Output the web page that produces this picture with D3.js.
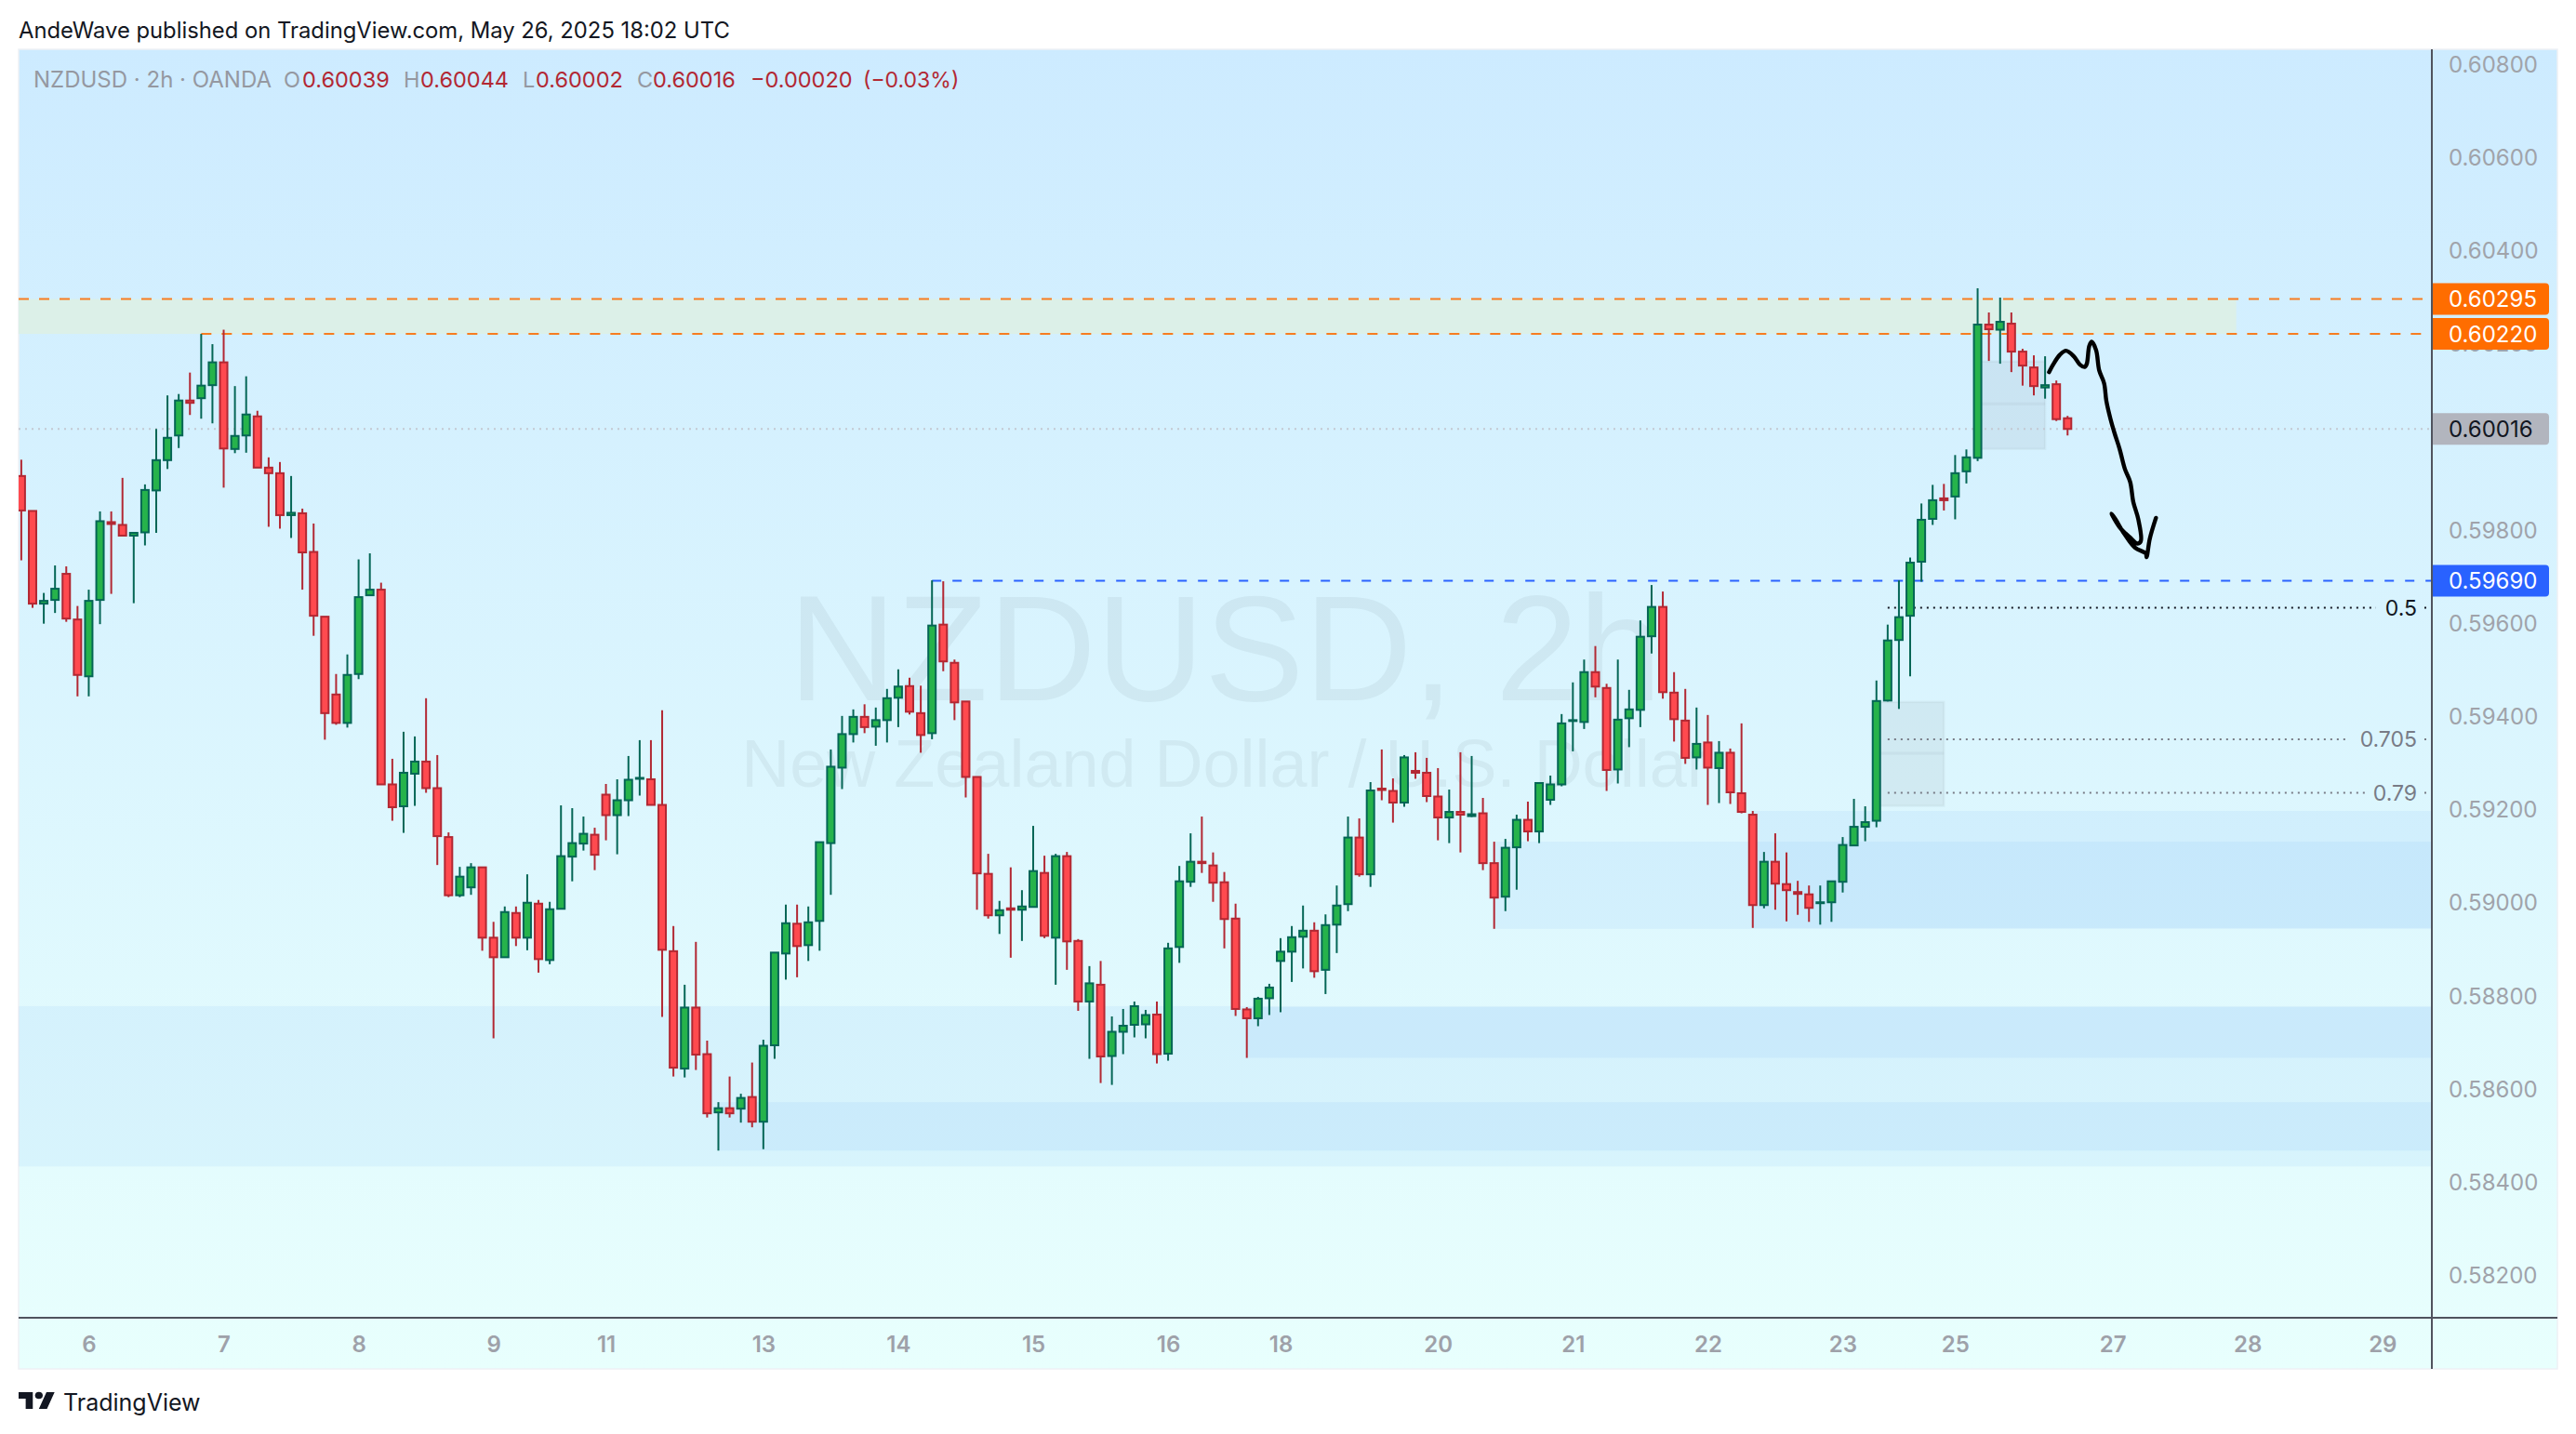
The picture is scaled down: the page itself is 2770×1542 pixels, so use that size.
<!DOCTYPE html>
<html><head><meta charset="utf-8">
<script src="https://cdn.jsdelivr.net/npm/d3@7/dist/d3.min.js"></script>
<style>
html,body{margin:0;padding:0;background:#fff}
svg{display:block}
text{font-family:Inter,"Liberation Sans",sans-serif}
</style></head><body>
<script>
// OHLC values in points of 0.00001
const opens=[59915,59840,59641,59649,59705,59607,59485,59649,59816,59810,
59787,59794,59884,59949,60002,60077,60082,60110,60159,59973,
60002,60043,59933,59921,59831,59835,59752,59613,59446,59385,
59490,59659,59671,59253,59206,59276,59302,59245,59140,59015,
59032,59075,58924,58882,58977,58924,58997,58876,58986,59098,
59126,59145,59231,59187,59219,59265,59264,59209,58895,58643,
58774,58674,58549,58558,58557,58582,58529,58693,58890,58954,
58908,58960,59127,59289,59361,59398,59377,59391,59439,59464,
59406,59363,59596,59514,59431,59269,59061,58972,58987,58984,
58990,59063,58924,59099,58917,58787,58823,58670,58722,58737,
58738,58759,58675,58904,59044,59087,59079,59043,58965,58770,
58751,58794,58874,58894,58926,58939,58855,58952,58996,59139,
59060,59244,59239,59214,59282,59278,59227,59182,59194,59185,
59191,59084,59012,59118,59177,59152,59220,59253,59389,59387,
59494,59460,59285,59395,59413,59571,59634,59450,59390,59311,
59343,59288,59321,59234,59188,58994,59087,59039,59022,59017,
58998,59000,59044,59122,59162,59175,59433,59563,59615,59731,
59823,59867,59871,59925,59954,60240,60229,60242,60182,60148,
60105,60112,60039];
const highs=[59950,59840,59664,59723,59721,59636,59671,59839,59839,59911,
59793,59897,60016,60088,60091,60137,60220,60198,60229,60108,
60129,60055,59955,59945,59915,59845,59813,59613,59490,59532,
59736,59749,59686,59308,59366,59356,59438,59316,59150,59076,
59084,59075,58958,58991,58991,59060,59005,59001,59208,59202,
59184,59160,59254,59264,59314,59348,59348,59412,58949,58823,
58915,58703,58571,58626,58589,58656,58705,58892,58995,58995,
58991,59129,59328,59400,59414,59425,59418,59458,59500,59482,
59465,59691,59689,59521,59431,59269,59104,59003,59075,59026,
59164,59100,59104,59108,58921,58863,58874,58755,58771,58787,
58769,58787,58913,59078,59148,59184,59107,59065,58997,58775,
58797,58825,58923,58949,58993,58957,58974,59036,59184,59180,
59258,59328,59266,59316,59322,59310,59288,59242,59322,59314,
59224,59130,59136,59188,59216,59257,59272,59404,59472,59521,
59550,59469,59521,59456,59605,59681,59667,59494,59458,59418,
59402,59346,59330,59384,59196,59108,59148,59107,59046,59036,
59036,59045,59140,59222,59206,59476,59596,59691,59740,59856,
59896,59898,59960,59972,60318,60266,60298,60266,60188,60174,
60172,60120,60044];
const lows=[59734,59632,59598,59621,59602,59442,59442,59597,59662,59787,
59642,59766,59793,59930,59975,60046,60038,60028,59890,59964,
59965,59933,59806,59802,59782,59671,59572,59349,59381,59375,
59479,59659,59253,59175,59149,59207,59235,59080,59011,59011,
59016,58896,58708,58882,58906,58897,58849,58867,58986,59045,
59111,59069,59133,59103,59185,59229,59209,58754,58626,58624,
58640,58538,58467,58538,58527,58517,58470,58664,58834,58839,
58874,58896,59016,59243,59343,59363,59336,59343,59376,59403,
59321,59350,59496,59391,59225,58984,58965,58932,58881,58917,
58990,58923,58823,58855,58767,58664,58612,58608,58674,58710,
58708,58654,58660,58870,59033,59063,59001,58901,58756,58666,
58734,58758,58764,58829,58858,58838,58803,58891,58981,59055,
59033,59219,59171,59205,59265,59215,59133,59127,59107,59183,
59069,58943,58981,59027,59131,59127,59209,59249,59324,59372,
59440,59239,59255,59333,59376,59534,59437,59345,59297,59285,
59209,59213,59211,59191,58945,58987,58984,58959,58973,58958,
58952,58958,59021,59122,59131,59161,59431,59415,59485,59688,
59810,59841,59822,59899,59947,60162,60156,60138,60109,60088,
60081,60033,60002];
const closes=[59841,59641,59647,59673,59609,59488,59647,59818,59812,59787,
59793,59885,59949,59997,60077,60072,60109,60159,59974,60001,
60047,59933,59921,59831,59836,59751,59615,59406,59385,59488,
59655,59671,59253,59204,59278,59302,59245,59142,59015,59055,
59075,58924,58882,58979,58924,58999,58878,58985,59099,59127,
59147,59102,59187,59219,59263,59267,59209,58898,58645,58774,
58673,58547,58558,58547,58580,58529,58692,58892,58955,58906,
58957,59129,59291,59361,59398,59376,59391,59438,59463,59409,
59359,59594,59517,59429,59269,59062,58972,58983,58984,58991,
59067,58928,59099,58916,58787,58826,58669,58722,58735,58777,
58758,58674,58901,59045,59087,59084,59042,58964,58771,58751,
58793,58817,58894,58925,58939,58852,58951,58993,59139,59060,
59240,59241,59214,59311,59278,59228,59182,59194,59188,59189,
59084,59010,59117,59177,59152,59256,59253,59384,59391,59494,
59463,59284,59392,59414,59570,59634,59451,59393,59310,59340,
59289,59321,59236,59194,58994,59087,59040,59026,59018,58988,
59000,59045,59123,59162,59172,59432,59562,59612,59729,59821,
59863,59863,59921,59955,60240,60230,60246,60182,60152,60108,
60110,60037,60016];

// axis ticks
const dayBars=[6,18,30,42,52,66,78,90,102,112,126,138,150,162,172,186,198,210];
const dayLabels=["6","7","8","9","11","13","14","15","16","18","20","21","22","23","25","27","28","29"];
const priceTicks=[58200,58400,58600,58800,59000,59200,59400,59600,59800,60000,60200,60400,60600,60800];

// blue demand zones (start bar, top, bottom)
const zoneStarts=[-1,62,109,131,154];
const zoneTops=[58777,58571,58775,59130,59196];
const zoneBottoms=[58433,58467,58666,58943,58945];

// grey imbalance boxes (start bar, end bar, top, mid, bottom)
const boxStarts=[165,174];
const boxEnds=[171,180];
const boxTops=[59430,60161];
const boxMids=[59320,60070];
const boxBottoms=[59207,59973];

// fib levels
const fibLabels=["0.5","0.705","0.79"];
const fibPrices=[59632,59350,59235];
const fibStart=166;

// key levels
const supplyTop=60295, supplyBottom=60220, supplyEndBar=197, supplyLowStart=16;
const swingHigh=59690, swingStart=81, lastPrice=60016;

// hand-drawn arrow (bar, price)
const arrowBars=[180.35,180.76,181.31,181.86,182.55,183.1,183.52,183.71,183.93,184.15,184.54,184.81,185.25,185.45,185.8,186.19,186.63,187.1,187.57,187.84,188.29,188.51,188.2,187.51,186.69,185.91,186.27,186.96,188.01,188.95,189.03,189.31,189.86];
const arrowPrices=[60138,60156,60175,60184,60172,60154,60149,60156,60194,60203,60185,60142,60114,60076,60039,60006,59973,59930,59902,59860,59822,59775,59770,59784,59803,59834,59822,59794,59761,59749,59741,59780,59825];

const P=v=>v/1e5;
const W=2770,H=1542,L=20,AX=2615,R=2750,T=53,TA=1417,B=1472;
const x=d3.scaleLinear().domain([-0.24,214.4]).range([L,AX]);
const y=d3.scaleLinear().domain([0.608,0.582]).range([68.5,1371]);
const candles=opens.map((o,i)=>({i,o:P(o),h:P(highs[i]),l:P(lows[i]),c:P(closes[i])}));

const svg=d3.select("body").append("svg").attr("width",W).attr("height",H);
const defs=svg.append("defs");
const g=defs.append("linearGradient").attr("id","bg").attr("x1",0).attr("x2",0).attr("y1",0).attr("y2",1);
g.append("stop").attr("offset",0).attr("stop-color","#cdebff");
g.append("stop").attr("offset",1).attr("stop-color","#e8fffd");
defs.append("clipPath").attr("id","plot").append("rect").attr("x",L).attr("y",T).attr("width",AX-L).attr("height",TA-T);

svg.append("rect").attr("x",L).attr("y",T).attr("width",R-L).attr("height",B-T).attr("fill","url(#bg)").attr("stroke","#eef1f5").attr("stroke-width",1.5);

const plot=svg.append("g").attr("clip-path","url(#plot)");

plot.selectAll(".zone").data(zoneStarts).join("rect").attr("class","zone")
 .attr("x",d=>x(d)).attr("width",d=>AX-x(d))
 .attr("y",(d,i)=>y(P(zoneTops[i]))).attr("height",(d,i)=>y(P(zoneBottoms[i]))-y(P(zoneTops[i])))
 .attr("fill","rgba(55,135,240,0.07)");

// supply band
plot.append("rect").attr("x",L).attr("width",x(supplyEndBar)-L)
 .attr("y",y(P(supplyTop))).attr("height",y(P(supplyBottom))-y(P(supplyTop)))
 .attr("fill","#dcf0e8");

// watermark
const cx=(L+AX)/2;
plot.append("text").attr("x",cx).attr("y",753).attr("text-anchor","middle")
 .style("font-family","'Liberation Sans',Arial,sans-serif").style("font-size","161px").attr("fill","rgba(42,46,57,0.06)").text("NZDUSD, 2h");
plot.append("text").attr("x",cx).attr("y",846).attr("text-anchor","middle")
 .style("font-family","'Liberation Sans',Arial,sans-serif").style("font-size","72px").attr("fill","rgba(42,46,57,0.06)").text("New Zealand Dollar / U.S. Dollar");

// grey boxes
boxStarts.forEach((s,i)=>{
 const bx=x(s),bw=x(boxEnds[i])-bx,t=y(P(boxTops[i])),b=y(P(boxBottoms[i])),m=y(P(boxMids[i]));
 plot.append("rect").attr("x",bx).attr("y",t).attr("width",bw).attr("height",b-t)
  .attr("fill","rgba(120,123,134,0.1)").attr("stroke","rgba(120,123,134,0.07)").attr("stroke-width",2.5);
 plot.append("line").attr("x1",bx).attr("x2",bx+bw).attr("y1",m).attr("y2",m)
  .attr("stroke","rgba(120,123,134,0.08)").attr("stroke-width",3);
});

// level lines
function level(x1,x2,p,color,dash,w=2){
 plot.append("line").attr("x1",x1).attr("x2",x2).attr("y1",y(P(p))).attr("y2",y(P(p)))
  .attr("stroke",color).attr("stroke-width",w).attr("stroke-dasharray",dash);
}
level(L,AX,lastPrice,"#c4c9d2","2 5");
level(L,AX,supplyTop,"#f77c20","11 11");
level(x(supplyLowStart),AX,supplyBottom,"#f77c20","11 11");
level(x(swingStart),AX,swingHigh,"#2962ff","10 12");

// fib levels
const fibGaps=[[2555,2607],[2524.6,2607],[2543,2607]];
fibPrices.forEach((p,i)=>{
 const col=i===0?"#131722":"#787b86";
 level(x(fibStart),fibGaps[i][0],p,col,"2 5");
 level(fibGaps[i][1],AX,p,col,"2 5");
 plot.append("text").attr("x",2599).attr("y",y(P(p))).attr("dy","0.36em").attr("text-anchor","end")
  .style("font-size","23px").attr("fill",col).text(fibLabels[i]);
});

// candles
const upLine="#056656",upFill="#26b34b",dnLine="#b22833",dnFill="#ff4a4f";
const cg=plot.append("g").selectAll("g").data(candles).join("g");
cg.append("line").attr("x1",d=>x(d.i)).attr("x2",d=>x(d.i)).attr("y1",d=>y(d.h)).attr("y2",d=>y(d.l))
 .attr("stroke",d=>d.c>=d.o?upLine:dnLine).attr("stroke-width",2);
cg.append("rect").attr("x",d=>x(d.i)-4).attr("width",8)
 .attr("y",d=>y(Math.max(d.o,d.c))).attr("height",d=>Math.abs(y(d.o)-y(d.c)))
 .attr("fill",d=>d.c>=d.o?upFill:dnFill).attr("stroke",d=>d.c>=d.o?upLine:dnLine).attr("stroke-width",2);

// hand-drawn arrow
const arrow=d3.line().x(d=>x(d[0])).y(d=>y(P(d[1]))).curve(d3.curveCatmullRom);
plot.append("path").attr("d",arrow(arrowBars.map((b,i)=>[b,arrowPrices[i]])))
 .attr("fill","none").attr("stroke","#000").attr("stroke-width",4.4).attr("stroke-linecap","round").attr("stroke-linejoin","round");

// axes
const xAxis=d3.axisBottom(x).tickValues(dayBars).tickFormat((d,i)=>dayLabels[i]).tickSize(0).tickPadding(0);
const xg=svg.append("g").attr("transform",`translate(0,${TA})`).call(xAxis);
xg.select(".domain").remove();
xg.selectAll("text").attr("y",28).attr("dy","0.36em").style("font-size","24px").style("font-weight",600).attr("fill","#9ea1a9");

const yAxis=d3.axisRight(y).tickValues(priceTicks.map(P)).tickFormat(d3.format(".5f")).tickSize(0).tickPadding(0);
const yg=svg.append("g").attr("transform",`translate(${AX},0)`).call(yAxis);
yg.select(".domain").remove();
yg.selectAll("text").attr("x",18).attr("dy","0.36em").style("font-size","24px").attr("fill","#a0a3aa");

svg.append("line").attr("x1",L).attr("x2",R).attr("y1",TA).attr("y2",TA).attr("stroke","#50535e").attr("stroke-width",2);
svg.append("line").attr("x1",AX).attr("x2",AX).attr("y1",T).attr("y2",B).attr("stroke","#50535e").attr("stroke-width",2);

// price tags
const tagPrices=[supplyTop,supplyBottom,lastPrice,swingHigh];
const tagFills=["#ff6d00","#ff6d00","#b2b5be","#2962ff"];
const tagText=["#fff","#fff","#131722","#fff"];
tagPrices.forEach((p,i)=>{
 const c=y(P(p));
 svg.append("path").attr("d",`M${AX+1},${c-17}H2737a4,4 0 0 1 4,4V${c+13}a4,4 0 0 1 -4,4H${AX+1}Z`).attr("fill",tagFills[i]);
 svg.append("text").attr("x",AX+18).attr("y",c).attr("dy","0.36em").style("font-size","24px").attr("fill",tagText[i]).text(d3.format(".5f")(P(p)));
});

// header legend
svg.append("text").attr("x",20).attr("y",32).attr("dy","0.36em").style("font-size","23.8px").attr("fill","#131722")
 .text("AndeWave published on TradingView.com, May 26, 2025 18:02 UTC");
const gray="#9598a1",red="#b22833";
const legendText=["NZDUSD · 2h · OANDA","O","0.60039","H","0.60044","L","0.60002","C","0.60016","−0.00020","(−0.03%)"];
const legendX=[36,305,325,434,452,562,576,685,702,807,928];
const legendCol=[gray,gray,red,gray,red,gray,red,gray,red,red,red];
const legendSize=[24,23.5,23.5,23.5,23.5,23.5,23.5,23.5,23.5,23.5,23];
legendText.forEach((t,i)=>svg.append("text").attr("x",legendX[i]).attr("y",85.5).attr("dy","0.36em")
 .style("font-size",legendSize[i]+"px").attr("fill",legendCol[i]).text(t));

// footer logo
const logo=svg.append("g").attr("transform","translate(20,1493) scale(1.09,1)").attr("fill","#131722");
logo.append("path").attr("d","M14 22H7V11H0V4h14v18zM28 22h-8l7.5-18h8L28 22z");
logo.append("circle").attr("cx",20).attr("cy",7.5).attr("r",3.8);
svg.append("text").attr("x",68).attr("y",1508).attr("dy","0.36em").style("font-size","25px").attr("fill","#131722").text("TradingView");
</script>
</body></html>
